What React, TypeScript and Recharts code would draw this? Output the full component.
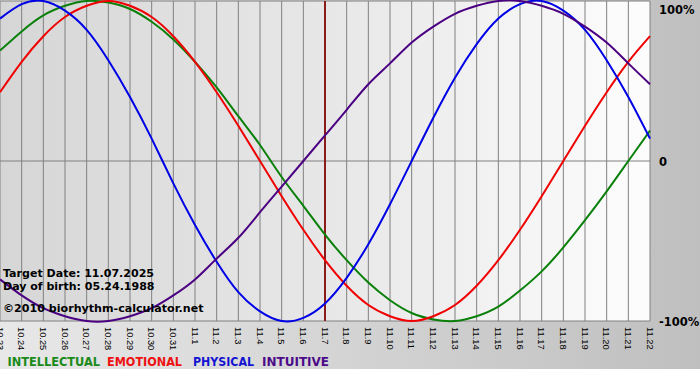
import React from 'react';
import {
  LineChart,
  Line,
  XAxis,
  YAxis,
  CartesianGrid,
  ReferenceLine,
} from 'recharts';

// days shown on the x axis (month.day)
const dates = [
  '10.23', '10.24', '10.25', '10.26', '10.27', '10.28', '10.29', '10.30', '10.31',
  '11.1', '11.2', '11.3', '11.4', '11.5', '11.6', '11.7', '11.8', '11.9', '11.10',
  '11.11', '11.12', '11.13', '11.14', '11.15', '11.16', '11.17', '11.18', '11.19',
  '11.20', '11.21', '11.22',
];

const intellectual = [
  0.69, 0.81, 0.91, 0.97, 1.0, 0.99, 0.95, 0.87, 0.76, 0.62, 0.46, 0.28, 0.1, -0.1, -0.28,
  -0.46, -0.62, -0.76, -0.87, -0.95, -0.99, -1.0, -0.97, -0.91, -0.81, -0.69, -0.54, -0.37,
  -0.19, 0.0, 0.19,
];
const emotional = [
  0.43, 0.62, 0.78, 0.9, 0.97, 1.0, 0.97, 0.9, 0.78, 0.62, 0.43, 0.22, 0.0, -0.22, -0.43,
  -0.62, -0.78, -0.9, -0.97, -1.0, -0.97, -0.9, -0.78, -0.62, -0.43, -0.22, 0.0, 0.22, 0.43,
  0.62, 0.78,
];
const physical = [
  0.89, 0.98, 1.0, 0.94, 0.82, 0.63, 0.4, 0.14, -0.14, -0.4, -0.63, -0.82, -0.94, -1.0, -0.98,
  -0.89, -0.73, -0.52, -0.27, 0.0, 0.27, 0.52, 0.73, 0.89, 0.98, 1.0, 0.94, 0.82, 0.63, 0.4,
  0.14,
];
const intuitive = [
  -0.74, -0.84, -0.92, -0.97, -1.0, -1.0, -0.97, -0.92, -0.84, -0.74, -0.61, -0.48, -0.32,
  -0.16, 0.0, 0.16, 0.32, 0.48, 0.61, 0.74, 0.84, 0.92, 0.97, 1.0, 1.0, 0.97, 0.92, 0.84,
  0.74, 0.61, 0.48,
];

const yTicks = [-1, 0, 1];
const yLabels: Record<string, string> = { '-1': '-100%', '0': '0', '1': '100%' };
const targetDay = '11.7';

const legendItems = [
  { name: 'INTELLECTUAL', color: '#1a8a1a', x: 7.5, len: 92.5 },
  { name: 'EMOTIONAL', color: '#ee1111', x: 107, len: 75 },
  { name: 'PHYSICAL', color: '#1414d0', x: 193, len: 61 },
  { name: 'INTUITIVE', color: '#4b0a8a', x: 262, len: 67 },
];

const infoLines = [
  { text: 'Target Date: 11.07.2025', y: 277, len: 151 },
  { text: 'Day of birth: 05.24.1988', y: 290, len: 151.5 },
  { text: '\u00a92010 biorhythm-calculator.net', y: 312, len: 200.5 },
];

const data = dates.map((d, i) => ({
  date: d,
  intellectual: intellectual[i],
  emotional: emotional[i],
  physical: physical[i],
  intuitive: intuitive[i],
}));

const DateTick = (props: any) => {
  const { x, payload } = props;
  return (
    <text
      x={x}
      y={327}
      dy={3.3}
      transform={`rotate(90, ${x}, 327)`}
      fontFamily="'Liberation Sans', Arial, sans-serif"
      fontSize={9.3}
      fill="#000"
      textAnchor="start"
    >
      {payload.value}
    </text>
  );
};

const PercentTick = (props: any) => {
  const { y, payload } = props;
  return (
    <text
      x={659}
      y={Math.max(y + 5, 11)}
      fontFamily="'DejaVu Sans', Verdana, sans-serif"
      fontWeight="bold"
      fontSize={11.5}
      fill="#000"
    >
      {yLabels[String(payload.value)]}
    </text>
  );
};

export default function App() {
  return (
    <div style={{ position: 'absolute', left: 0, top: 0, width: 700, height: 380 }}>
      <div
        style={{
          position: 'absolute',
          left: 0,
          top: 0,
          width: 700,
          height: 369,
          background: 'linear-gradient(to right, #e8e8e8, #bfbfbf)',
        }}
      />
      <div style={{ position: 'absolute', left: 0, top: 0 }}>
        <LineChart width={700} height={380} data={data} margin={{ top: 1, right: 0, left: 0, bottom: 0 }}>
          <defs>
            <linearGradient id="plotBg" x1="0" y1="0" x2="1" y2="0">
              <stop offset="0%" stopColor="#d6d6d6" />
              <stop offset="55%" stopColor="#e9e9e9" />
              <stop offset="100%" stopColor="#fdfdfd" />
            </linearGradient>
          </defs>
          <CartesianGrid stroke="#808080" strokeWidth={1} fill="url(#plotBg)" fillOpacity={1} />
          <XAxis
            dataKey="date"
            interval={0}
            height={59}
            axisLine={false}
            tickLine={false}
            tick={<DateTick />}
          />
          <YAxis
            orientation="right"
            width={50}
            domain={[-1, 1]}
            ticks={yTicks}
            axisLine={false}
            tickLine={false}
            tick={<PercentTick />}
          />
          <ReferenceLine x={targetDay} stroke="#8b1c1c" strokeWidth={2} />
          <Line type="natural" dataKey="intellectual" stroke="#0a800a" strokeWidth={2} dot={false} activeDot={false} isAnimationActive={false} />
          <Line type="natural" dataKey="emotional" stroke="#f00000" strokeWidth={2} dot={false} activeDot={false} isAnimationActive={false} />
          <Line type="natural" dataKey="physical" stroke="#0000e6" strokeWidth={2} dot={false} activeDot={false} isAnimationActive={false} />
          <Line type="natural" dataKey="intuitive" stroke="#4b0082" strokeWidth={2} dot={false} activeDot={false} isAnimationActive={false} />
        </LineChart>
      </div>
      <svg
        width={700}
        height={380}
        style={{ position: 'absolute', left: 0, top: 0, pointerEvents: 'none' }}
      >
        {infoLines.map((l) => (
          <text
            key={l.text}
            x={3}
            y={l.y}
            textLength={l.len}
            lengthAdjust="spacingAndGlyphs"
            fontFamily="'DejaVu Sans', Verdana, sans-serif"
            fontWeight="bold"
            fontSize={11}
            fill="#000"
          >
            {l.text}
          </text>
        ))}
        {legendItems.map((it) => (
          <text
            key={it.name}
            x={it.x}
            y={366}
            textLength={it.len}
            lengthAdjust="spacingAndGlyphs"
            fontFamily="'DejaVu Sans', Verdana, sans-serif"
            fontWeight="bold"
            fontSize={12}
            fill={it.color}
          >
            {it.name}
          </text>
        ))}
      </svg>
    </div>
  );
}
